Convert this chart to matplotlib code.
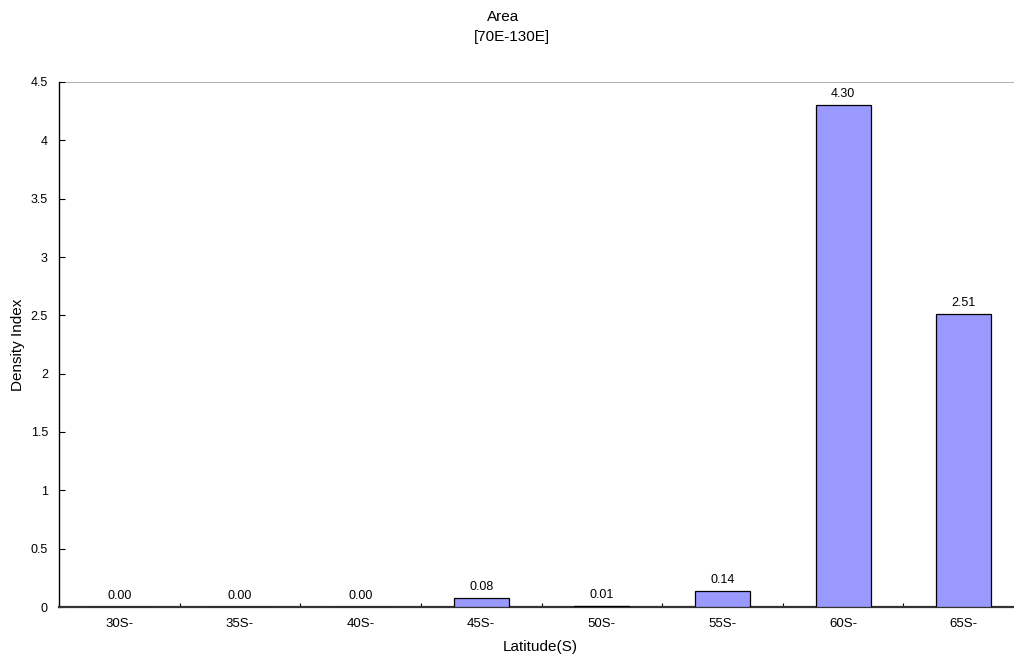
import matplotlib
matplotlib.use("Agg")
import numpy as np
import matplotlib.pyplot as plt

# chart data
latitudes = ["30S-", "35S-", "40S-", "45S-", "50S-", "55S-", "60S-", "65S-"]
density = [0.00, 0.00, 0.003, 0.08, 0.01, 0.14, 4.30, 2.51]
value_labels = ["0.00", "0.00", "0.00", "0.08", "0.01", "0.14", "4.30", "2.51"]
yticks = [0, 0.5, 1, 1.5, 2, 2.5, 3, 3.5, 4, 4.5]
ytick_labels = ["0", "0.5", "1", "1.5", "2", "2.5", "3", "3.5", "4", "4.5"]

plt.rcParams["font.family"] = ["Liberation Sans", "DejaVu Sans"]
plt.rcParams["font.size"] = 9

W, H = 1014, 658
fig = plt.figure(figsize=(W / 100, H / 100), dpi=100)
# plot area in pixels: left 59, right 1024 (runs past the image edge), top 82, bottom 607
ax = fig.add_axes([59 / W, (H - 607) / H, (1024 - 59) / W, (607 - 82) / H])

x = np.arange(len(latitudes)) + 0.5
ax.bar(x, density, width=0.455, color="#9999FF", edgecolor="black", linewidth=0.9, zorder=3)

for xi, v, lab in zip(x, density, value_labels):
    ax.annotate(lab, (xi, v), xytext=(0, 3.5), textcoords="offset points",
                ha="center", va="bottom", fontsize=9)

ax.set_xlim(0, len(latitudes))
ax.set_ylim(0, 4.5)
ax.axhline(4.5, color="#a0a0a0", linewidth=1.2, zorder=1)

ax.set_yticks(yticks)
ax.set_yticklabels(ytick_labels)
ax.set_xticks(np.arange(len(latitudes) + 1))
ax.set_xticklabels([""] * (len(latitudes) + 1))
ax.set_xticks(x, minor=True)
ax.set_xticklabels(latitudes, minor=True, fontsize=9.5)
ax.tick_params(axis="x", which="minor", length=0, pad=8)
ax.tick_params(axis="x", which="major", direction="in", length=3, width=0.8)
ax.tick_params(axis="y", direction="in", length=4, width=0.8, pad=8)

for side in ["top", "right"]:
    ax.spines[side].set_visible(False)
ax.spines["left"].set_linewidth(1.0)
ax.spines["bottom"].set_linewidth(1.6)
ax.spines["bottom"].set_color("#333333")

fig.text(503 / W, 1 - 17 / H, "Area", ha="center", va="center", fontsize=11)
fig.text(512 / W, 1 - 37 / H, "[70E-130E]", ha="center", va="center", fontsize=11)
fig.text(540 / W, 1 - 647 / H, "Latitude(S)", ha="center", va="center", fontsize=11)
fig.text(18 / W, 1 - 345 / H, "Density Index", ha="center", va="center",
         rotation=90, fontsize=11)

fig.savefig("out.png", dpi=100)
